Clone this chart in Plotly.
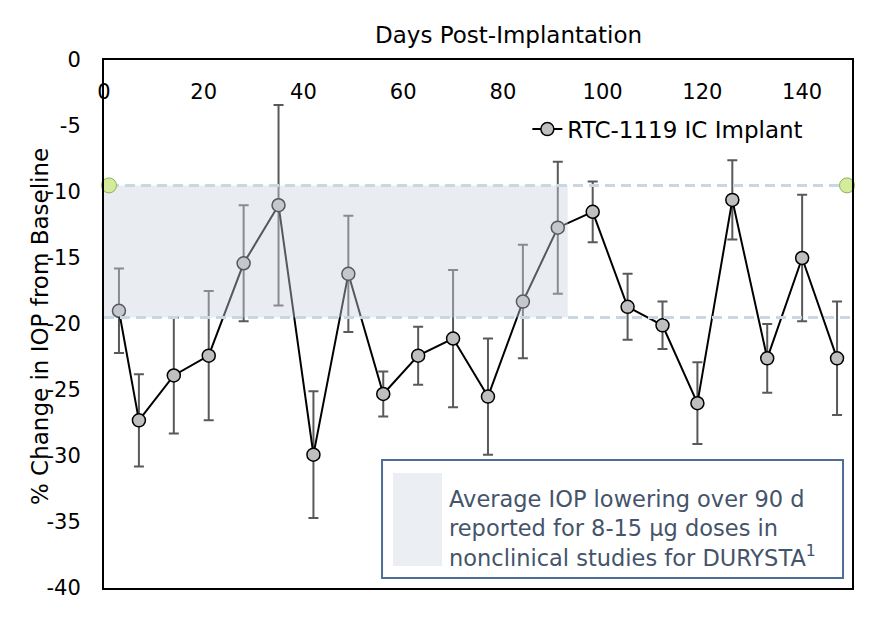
import plotly.graph_objects as go

# ---- data ----
days = [3, 7, 14, 21, 28, 35, 42, 49, 56, 63, 70, 77, 84, 91, 98, 105, 112, 119, 126, 133, 140, 147]
pct_change = [-19.0, -27.3, -23.9, -22.4, -15.4, -11.0, -29.9, -16.2, -25.3, -22.4, -21.1, -25.5,
              -18.3, -12.7, -11.5, -18.7, -20.1, -26.0, -10.6, -22.6, -15.0, -22.6]
err = [3.2, 3.5, 4.4, 4.9, 4.4, 7.6, 4.8, 4.4, 1.7, 2.2, 5.2, 4.4,
       4.3, 5.0, 2.3, 2.5, 1.8, 3.1, 3.0, 2.6, 4.8, 4.3]

band_top = -9.5
band_bottom = -19.5
band_days = [0, 93]          # shaded 90-day window
ref_line_days = [1, 149]     # dashed reference lines endpoints

x_tick_vals = [0, 20, 40, 60, 80, 100, 120, 140]
y_tick_vals = [0, -5, -10, -15, -20, -25, -30, -35, -40]
y_tick_text = ["0", "-5", "-10", "-15", "-20", "-25", "-30", "-35", "-40"]

series_name = "RTC-1119 IC Implant"
x_title = "Days Post-Implantation"
y_title = "% Change in IOP from Baseline"
box_text = ("Average IOP lowering over 90 d<br>reported for 8-15 µg doses in<br>"
            "nonclinical studies for DURYSTA<sup>1</sup>")

FONT = "DejaVu Sans"

fig = go.Figure()

# main series
fig.add_trace(go.Scatter(
    x=days, y=pct_change, mode="lines+markers", name=series_name,
    line=dict(color="black", width=2),
    marker=dict(size=13, color="#BFBFBF", line=dict(color="black", width=1.5)),
    error_y=dict(type="data", array=err, visible=True, color="#595959", thickness=2, width=5),
    cliponaxis=False,
))

# shaded band (semi-transparent, drawn over the data)
fig.add_trace(go.Scatter(
    x=[band_days[0], band_days[1], band_days[1], band_days[0], band_days[0]],
    y=[band_top, band_top, band_bottom, band_bottom, band_top],
    mode="lines", fill="toself", fillcolor="rgba(203,213,225,0.42)",
    line=dict(width=0), showlegend=False, hoverinfo="skip",
))

# lower dashed reference
fig.add_trace(go.Scatter(
    x=[0, 150], y=[band_bottom, band_bottom], mode="lines",
    line=dict(color="#C9D6E4", width=3, dash="10px,6px"),
    showlegend=False, hoverinfo="skip",
))
# upper dashed reference with green end markers
fig.add_trace(go.Scatter(
    x=ref_line_days, y=[band_top, band_top], mode="lines+markers",
    line=dict(color="#C9D6E4", width=3, dash="10px,6px"),
    marker=dict(size=15, color="#D4EC9A", line=dict(color="#8FAF5E", width=1)),
    showlegend=False, hoverinfo="skip", cliponaxis=False,
))

fig.update_layout(
    width=890, height=632,
    margin=dict(l=104, r=38, t=60, b=44),
    paper_bgcolor="white", plot_bgcolor="white",
    font=dict(family=FONT, size=21, color="black"),
    showlegend=True,
    legend=dict(x=0.566, y=0.869, xanchor="left", yanchor="middle",
                bgcolor="rgba(0,0,0,0)", font=dict(size=23, color="black"),
                itemwidth=30),
    xaxis=dict(range=[0, 150], side="top", tickvals=x_tick_vals,
               ticklabelposition="inside", ticklabelstandoff=26, ticklabeloverflow="allow",
               ticks="", automargin=False, tickfont=dict(color="black", size=21),
               showgrid=False, zeroline=False,
               showline=True, linecolor="black", linewidth=2, mirror=True),
    yaxis=dict(range=[-40, 0], tickvals=y_tick_vals, ticktext=y_tick_text, ticks="",
               ticklabelstandoff=17, ticklabeloverflow="allow", automargin=False,
               tickfont=dict(color="black", size=21),
               showgrid=False, zeroline=False,
               showline=True, linecolor="black", linewidth=2, mirror=True),
    shapes=[
        dict(type="rect", xref="paper", yref="paper", x0=0.3717, x1=0.988, y0=0.0189, y1=0.2424,
             line=dict(color="#4F6E96", width=2), fillcolor="white", layer="above"),
        dict(type="rect", xref="paper", yref="paper", x0=0.3864, x1=0.4519, y0=0.0417, y1=0.2178,
             line=dict(width=0), fillcolor="#EBEFF4", layer="above"),
    ],
    annotations=[
        dict(text=x_title, xref="paper", yref="paper", x=0.541, y=1.047,
             xanchor="center", yanchor="middle", showarrow=False, font=dict(size=23)),
        dict(text=y_title, xref="paper", yref="paper", x=-0.0856, y=0.496, textangle=-90,
             xanchor="center", yanchor="middle", showarrow=False, font=dict(size=23)),
        dict(text=box_text, xref="paper", yref="paper", x=0.4586, y=0.113,
             xanchor="left", yanchor="middle", align="left", showarrow=False,
             font=dict(size=22.5, color="#44546A")),
    ],
)

fig.write_html("out.html", config={"displayModeBar": False},
               post_script="document.body.style.margin='0';")
